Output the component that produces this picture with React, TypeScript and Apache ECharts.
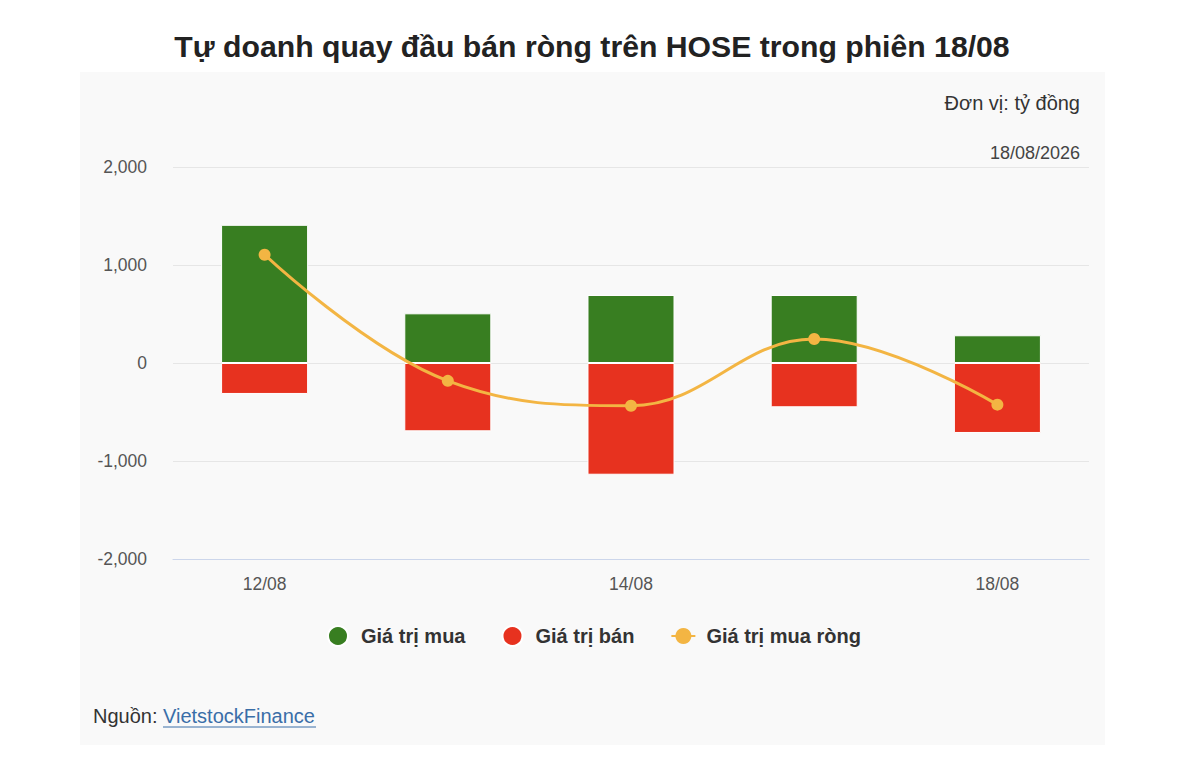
import React, { useEffect, useRef } from "react";
import * as echarts from "echarts";

const categories = ["12/08", "13/08", "14/08", "15/08", "18/08"];
const buyValues = [1410, 507, 694, 694, 283];
const sellValues = [-316, -697, -1140, -452, -714];
const netValues = [1105, -182, -436, 245, -425];
const yTicks = { min: -2000, max: 2000, interval: 1000 };

const FONT = "'Liberation Sans', Arial, Helvetica, sans-serif";

export default function App() {
  const ref = useRef<HTMLDivElement>(null);
  useEffect(() => {
    if (!ref.current) return;
    const chart = echarts.init(ref.current, undefined, { renderer: "svg" });
    chart.setOption({
      animation: false,
      backgroundColor: "#ffffff",
      textStyle: { fontFamily: FONT },
      graphic: [
        {
          type: "rect",
          z: -10,
          silent: true,
          shape: { x: 80, y: 72, width: 1025, height: 673 },
          style: { fill: "#f9f9f9" },
        },
        {
          type: "text",
          x: 592,
          y: 46,
          style: {
            text: "Tự doanh quay đầu bán ròng trên HOSE trong phiên 18/08",
            fontFamily: FONT,
            fontSize: 30.2,
            fontWeight: "bold",
            fill: "#222222",
            align: "center",
            verticalAlign: "middle",
          },
        },
        {
          type: "text",
          x: 1080,
          y: 103,
          style: {
            text: "Đơn vị: tỷ đồng",
            fontFamily: FONT,
            fontSize: 20,
            fill: "#333333",
            align: "right",
            verticalAlign: "middle",
          },
        },
        {
          type: "text",
          x: 1080,
          y: 153,
          style: {
            text: "18/08/2026",
            fontFamily: FONT,
            fontSize: 18,
            fill: "#444444",
            align: "right",
            verticalAlign: "middle",
          },
        },
        {
          type: "text",
          x: 93,
          y: 716,
          style: {
            text: "Nguồn:",
            fontFamily: FONT,
            fontSize: 20,
            fill: "#333333",
            align: "left",
            verticalAlign: "middle",
          },
        },
        {
          type: "text",
          x: 163,
          y: 716,
          style: {
            text: "VietstockFinance",
            fontFamily: FONT,
            fontSize: 20,
            fill: "#3a6ea8",
            align: "left",
            verticalAlign: "middle",
          },
        },
        {
          type: "line",
          shape: { x1: 163, y1: 727, x2: 316, y2: 727 },
          style: { stroke: "#3a6ea8", lineWidth: 1 },
        },
      ],
      legend: {
        bottom: 127,
        left: 322,
        itemGap: 36,
        itemWidth: 24,
        itemHeight: 20,
        textStyle: {
          fontSize: 20,
          fontWeight: "bold",
          color: "#333333",
          fontFamily: FONT,
          padding: [0, 0, 0, 6],
        },
        data: [
          { name: "Giá trị mua", icon: "circle" },
          { name: "Giá trị bán", icon: "circle" },
          { name: "Giá trị mua ròng" },
        ],
      },
      grid: { left: 173, right: 111, top: 167, bottom: 220, containLabel: false },
      xAxis: {
        type: "category",
        data: categories,
        axisLine: { onZero: false, lineStyle: { color: "#ccd6eb", width: 1 } },
        axisTick: { show: false },
        axisLabel: { interval: 1, color: "#555555", fontSize: 17.5, margin: 16, fontFamily: FONT },
      },
      yAxis: {
        type: "value",
        min: yTicks.min,
        max: yTicks.max,
        interval: yTicks.interval,
        axisLine: { show: false },
        axisTick: { show: false },
        splitLine: { lineStyle: { color: "#e6e6e6", width: 1 } },
        axisLabel: {
          color: "#555555",
          fontSize: 17.5,
          margin: 26,
          fontFamily: FONT,
          formatter: (v: number) => v.toLocaleString("en-US"),
        },
      },
      series: [
        {
          name: "Giá trị mua",
          type: "bar",
          stack: "total",
          data: buyValues,
          barWidth: "47.5%",
          itemStyle: { color: "#387e21", borderColor: "#ffffff", borderWidth: 1 },
        },
        {
          name: "Giá trị bán",
          type: "bar",
          stack: "total",
          data: sellValues,
          barWidth: "47.5%",
          itemStyle: { color: "#e7321f", borderColor: "#ffffff", borderWidth: 1 },
        },
        {
          name: "Giá trị mua ròng",
          type: "line",
          data: netValues,
          smooth: 0.4,
          symbol: "circle",
          symbolSize: 12,
          z: 5,
          lineStyle: { color: "#f3b543", width: 3 },
          itemStyle: { color: "#f3b543" },
        },
      ],
    });
    return () => chart.dispose();
  }, []);
  return (
    <div
      ref={ref}
      style={{ position: "absolute", left: 0, top: 0, width: 1200, height: 779 }}
    />
  );
}
